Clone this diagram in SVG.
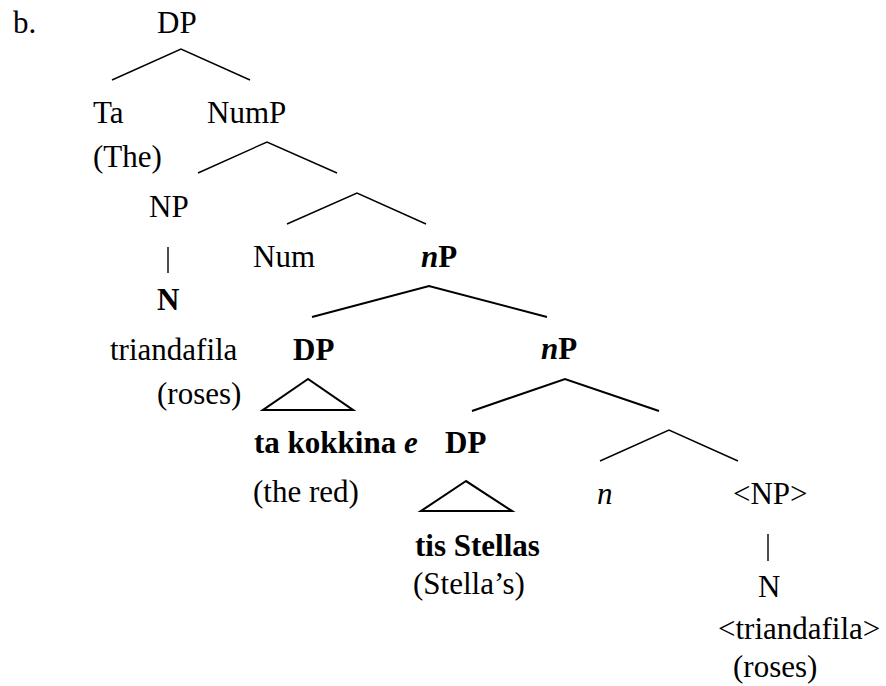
<svg xmlns="http://www.w3.org/2000/svg" width="886" height="686" viewBox="0 0 886 686" font-family="'Liberation Serif', 'Times New Roman', Times, 'DejaVu Serif', serif">
<style>
text{font-family:'Liberation Serif','Times New Roman',Times,'DejaVu Serif',serif;font-size:31px;fill:#000}
.b{font-weight:bold}
.i{font-style:italic}
.thin{fill:none;stroke:#000;stroke-width:1.4}
.thick{fill:none;stroke:#000;stroke-width:2.1}
</style>
<rect width="886" height="686" fill="#fff"/>
<g id="connectors">
<polyline class="thin" points="112,80 181,49 250,80"/>
<polyline class="thin" points="198,173 267,142 337,173"/>
<polyline class="thin" points="287,224 357,193 426,224"/>
<line class="thin" x1="168" y1="247" x2="168" y2="273"/>
<polyline class="thick" points="312,317 429,286 547,317"/>
<polyline class="thick" points="472,411 565,379 659,411"/>
<polyline class="thin" points="600,461 669,430 738,461"/>
<polygon class="thick" points="308,379 263,410 353,410"/>
<polygon class="thick" points="466,481 421,511 512,511"/>
<line class="thin" x1="768" y1="534" x2="768" y2="561"/>
</g>
<g id="label-b"><text x="13" y="33">b.</text></g>
<g id="node-DP-root"><text x="157" y="33">DP</text></g>
<g id="node-Ta"><text x="93" y="123">Ta</text><text x="93" y="167">(The)</text></g>
<g id="node-NumP"><text x="207" y="123">NumP</text></g>
<g id="node-NP"><text x="149" y="217">NP</text></g>
<g id="node-Num"><text x="253" y="267">Num</text></g>
<g id="node-nP1"><text x="421" y="267" class="b"><tspan class="i">n</tspan>P</text></g>
<g id="node-N"><text x="157" y="310" class="b">N</text><text x="110" y="360">triandafila</text><text x="157" y="404">(roses)</text></g>
<g id="node-DP1"><text x="293" y="360" class="b">DP</text></g>
<g id="node-nP2"><text x="541" y="359" class="b"><tspan class="i">n</tspan>P</text></g>
<g id="node-ta-kokkina"><text x="254" y="453" class="b">ta kokkina <tspan class="i">e</tspan></text><text x="253" y="502">(the red)</text></g>
<g id="node-DP2"><text x="445" y="453" class="b">DP</text></g>
<g id="node-tis-Stellas"><text x="415" y="556" class="b">tis Stellas</text><text x="413" y="594">(Stella’s)</text></g>
<g id="node-n"><text x="597" y="504" class="i">n</text></g>
<g id="node-NP-copy"><text x="733" y="504">&lt;NP&gt;</text></g>
<g id="node-N-copy"><text x="758" y="597">N</text><text x="718" y="639">&lt;triandafila&gt;</text><text x="733" y="677">(roses)</text></g>
</svg>
